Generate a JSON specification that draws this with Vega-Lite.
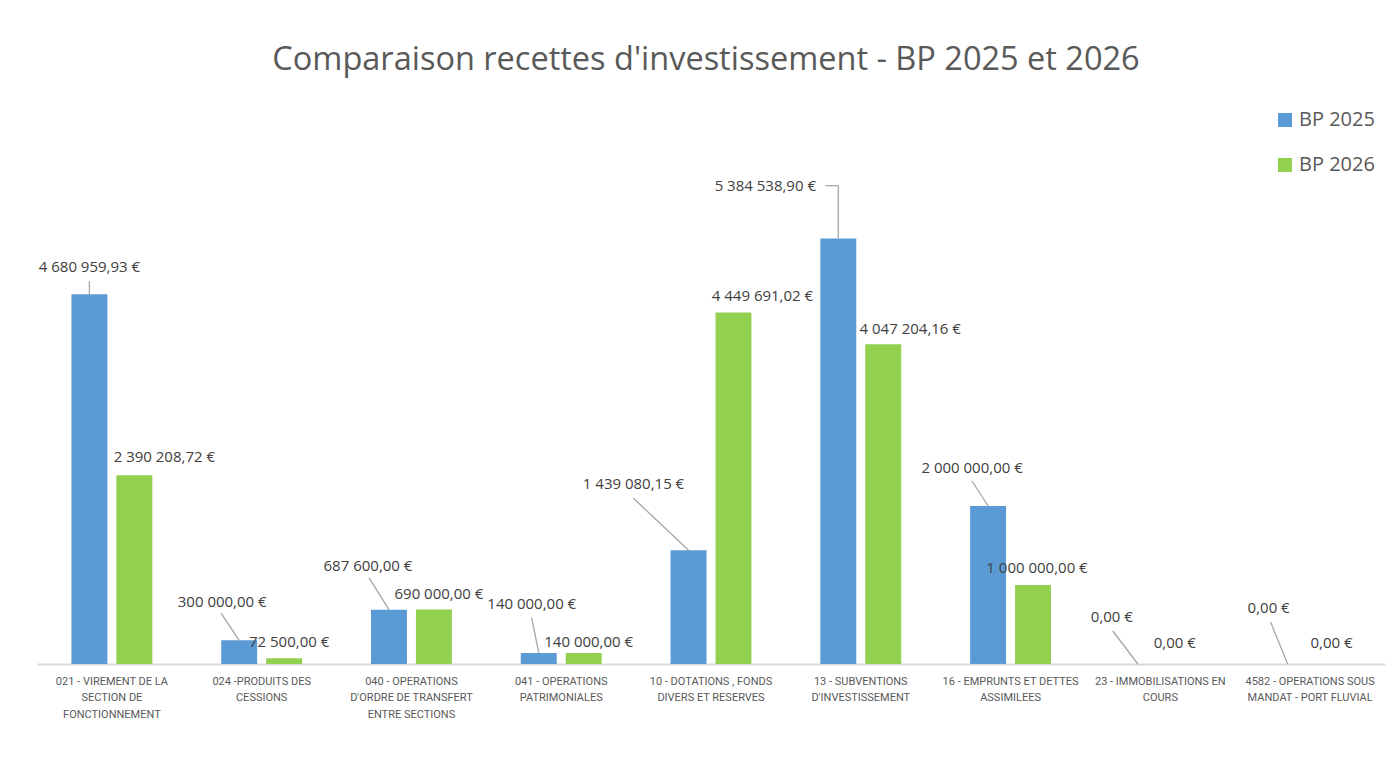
{
  "$schema": "https://vega.github.io/schema/vega-lite/v6.json",
  "width": 1348,
  "height": 474,
  "autosize": {"type": "none"},
  "padding": {"left": 37, "top": 190, "right": 9, "bottom": 93},
  "background": "white",
  "title": {
    "text": "Comparaison recettes d'investissement - BP 2025 et 2026",
    "font": "Open Sans",
    "fontSize": 32.5,
    "fontWeight": "normal",
    "color": "#595959",
    "anchor": "middle",
    "frame": "group",
    "dx": -5,
    "offset": 34
  },
  "config": {
    "view": {"stroke": null},
    "locale": {"number": {"decimal": ",", "thousands": " ", "grouping": [3], "currency": ["", " €"]}}
  },
  "data": {
    "values": [
      {"code": "021", "categorie": "021 - VIREMENT DE LA|SECTION DE|FONCTIONNEMENT", "serie": "BP 2025", "montant": 4680959.93},
      {"code": "021", "categorie": "021 - VIREMENT DE LA|SECTION DE|FONCTIONNEMENT", "serie": "BP 2026", "montant": 2390208.72},
      {"code": "024", "categorie": "024 -PRODUITS DES|CESSIONS", "serie": "BP 2025", "montant": 300000},
      {"code": "024", "categorie": "024 -PRODUITS DES|CESSIONS", "serie": "BP 2026", "montant": 72500},
      {"code": "040", "categorie": "040 - OPERATIONS|D'ORDRE DE TRANSFERT|ENTRE SECTIONS", "serie": "BP 2025", "montant": 687600},
      {"code": "040", "categorie": "040 - OPERATIONS|D'ORDRE DE TRANSFERT|ENTRE SECTIONS", "serie": "BP 2026", "montant": 690000},
      {"code": "041", "categorie": "041 - OPERATIONS|PATRIMONIALES", "serie": "BP 2025", "montant": 140000},
      {"code": "041", "categorie": "041 - OPERATIONS|PATRIMONIALES", "serie": "BP 2026", "montant": 140000},
      {"code": "10", "categorie": "10 - DOTATIONS , FONDS|DIVERS ET RESERVES", "serie": "BP 2025", "montant": 1439080.15},
      {"code": "10", "categorie": "10 - DOTATIONS , FONDS|DIVERS ET RESERVES", "serie": "BP 2026", "montant": 4449691.02},
      {"code": "13", "categorie": "13 - SUBVENTIONS|D'INVESTISSEMENT", "serie": "BP 2025", "montant": 5384538.90},
      {"code": "13", "categorie": "13 - SUBVENTIONS|D'INVESTISSEMENT", "serie": "BP 2026", "montant": 4047204.16},
      {"code": "16", "categorie": "16 - EMPRUNTS ET DETTES|ASSIMILEES", "serie": "BP 2025", "montant": 2000000},
      {"code": "16", "categorie": "16 - EMPRUNTS ET DETTES|ASSIMILEES", "serie": "BP 2026", "montant": 1000000},
      {"code": "23", "categorie": "23 - IMMOBILISATIONS EN|COURS", "serie": "BP 2025", "montant": 0},
      {"code": "23", "categorie": "23 - IMMOBILISATIONS EN|COURS", "serie": "BP 2026", "montant": 0},
      {"code": "4582", "categorie": "4582 - OPERATIONS SOUS|MANDAT - PORT FLUVIAL", "serie": "BP 2025", "montant": 0},
      {"code": "4582", "categorie": "4582 - OPERATIONS SOUS|MANDAT - PORT FLUVIAL", "serie": "BP 2026", "montant": 0}
    ]
  },
  "encoding": {
    "x": {
      "field": "categorie",
      "type": "nominal",
      "sort": null,
      "scale": {"paddingInner": 0.46, "paddingOuter": 0.23},
      "axis": {
        "title": null,
        "ticks": false,
        "labelAngle": 0,
        "labelFont": "Roboto",
        "labelFontSize": 11,
        "labelColor": "#595959",
        "labelLineHeight": 16.5,
        "labelPadding": 11,
        "labelLimit": 0,
        "labelBaseline": "top",
        "labelExpr": "split(datum.value, '|')",
        "domainColor": "#d9d9d9",
        "domainWidth": 2,
        "grid": false
      }
    },
    "xOffset": {"field": "serie", "type": "nominal", "scale": {"paddingInner": 0.2, "paddingOuter": 0}},
    "y": {
      "field": "montant",
      "type": "quantitative",
      "scale": {"domain": [0, 6000000], "nice": false},
      "axis": null
    }
  },
  "layer": [
    {
      "mark": {"type": "bar"},
      "encoding": {
        "color": {
          "field": "serie",
          "type": "nominal",
          "scale": {"domain": ["BP 2025", "BP 2026"], "range": ["#5b9bd5", "#92d050"]},
          "legend": {
            "orient": "none",
            "legendX": 1238,
            "legendY": -80,
            "title": null,
            "symbolType": "square",
            "symbolSize": 196,
            "symbolStrokeWidth": 0,
            "labelFont": "Open Sans",
            "labelFontSize": 20,
            "labelColor": "#595959",
            "labelOffset": 4,
            "rowPadding": 25
          }
        }
      }
    },
    {
      "transform": [{"filter": "datum.serie == 'BP 2025'"}],
      "mark": {
        "type": "rule",
        "color": "#a6a6a6",
        "strokeWidth": 1.3,
        "x2Offset": {"expr": "({'021': -22.5, '024': -40.5, '040': -42.5, '041': -29.5, '10': -77.5, '13': -22.5, '16': -38.5, '23': -47.5, '4582': -39.5})[datum.code]"},
        "y2Offset": {"expr": "({'021': -13, '024': -27, '040': -32, '041': -35, '10': -52, '13': -53, '16': -25, '23': -33, '4582': -42})[datum.code]"}
      },
      "encoding": {
        "x2": {"field": "categorie"},
        "y2": {"field": "montant"}
      }
    },
    {
      "transform": [{"filter": "datum.serie == 'BP 2025' && datum.code == '13'"}],
      "mark": {
        "type": "rule",
        "color": "#a6a6a6",
        "strokeWidth": 1.3,
        "yOffset": -53,
        "x2Offset": -35.5,
        "y2Offset": -53
      },
      "encoding": {
        "x2": {"field": "categorie"},
        "y2": {"field": "montant"}
      }
    },
    {
      "mark": {
        "type": "text",
        "font": "Open Sans",
        "fontSize": 15,
        "color": "#404040",
        "align": "center",
        "baseline": "middle",
        "dx": {"expr": "datum.serie == 'BP 2025' ? ({'021': 0, '024': -17, '040': -21, '041': -7, '10': -55, '13': -73, '16': -16, '23': -26, '4582': -19})[datum.code] : ({'021': 30, '024': 5, '040': 5, '041': 5, '10': 29, '13': 27, '16': 4, '23': -8, '4582': -1})[datum.code]"},
        "dy": {"expr": "datum.serie == 'BP 2025' ? ({'021': -27, '024': -38, '040': -44, '041': -49, '10': -66, '13': -53, '16': -38, '23': -47, '4582': -56})[datum.code] : ({'021': -18, '024': -16, '040': -15, '041': -11, '10': -16, '13': -15, '16': -17, '23': -21, '4582': -21})[datum.code]"}
      },
      "encoding": {
        "text": {"field": "montant", "type": "quantitative", "format": "$,.2f"}
      }
    }
  ]
}
